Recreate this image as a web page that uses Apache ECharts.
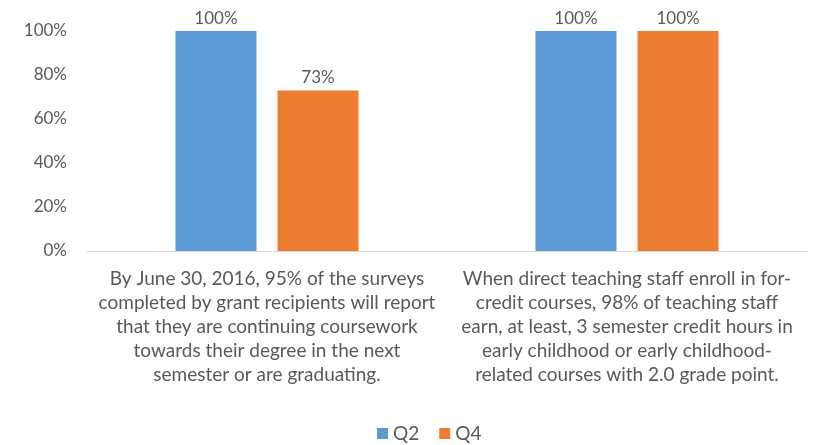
<!DOCTYPE html>
<html>
<head>
<meta charset="utf-8">
<script src="https://cdn.jsdelivr.net/npm/echarts@6/dist/echarts.min.js"></script>
<style>
  html, body { margin: 0; padding: 0; background: #fff; }
  #chart { width: 822px; height: 445px; }
</style>
</head>
<body>
<div id="chart"></div>
<script>
// categories (line breaks as in the picture)
const categories = [
  "By June 30, 2016, 95% of the surveys\ncompleted by grant recipients will report\nthat they are continuing coursework\ntowards their degree in the next\nsemester or are graduating.",
  "When direct teaching staff enroll in for-\ncredit courses, 98% of teaching staff\nearn, at least, 3 semester credit hours in\nearly childhood or early childhood-\nrelated courses with 2.0 grade point."
];
const seriesNames = ["Q2", "Q4"];
const q2Values = [100, 100];
const q4Values = [73, 100];
const yTicks = [0, 20, 40, 60, 80, 100];

const font = "Lato, 'Open Sans', sans-serif";
const textColor = "#595959";

const chart = echarts.init(document.getElementById("chart"));

const label = {
  show: true,
  position: "top",
  distance: 4,
  formatter: p => p.value + "%",
  color: textColor,
  fontSize: 17,
  fontFamily: font
};

const option = {
  animation: false,
  grid: { left: 87, right: 15, top: 31, bottom: 194 },
  legend: {
    data: seriesNames,
    bottom: -3,
    left: 372,
    itemWidth: 11,
    itemHeight: 11,
    itemGap: 20,
    icon: "rect",
    textStyle: { color: textColor, fontSize: 19, fontFamily: font }
  },
  xAxis: {
    type: "category",
    data: categories,
    axisTick: { show: false },
    axisLine: { lineStyle: { color: "#d9d9d9", width: 1 } },
    axisLabel: {
      interval: 0,
      margin: 16,
      color: textColor,
      fontSize: 19,
      lineHeight: 24,
      fontFamily: font,
      align: "center"
    }
  },
  yAxis: {
    type: "value",
    min: yTicks[0],
    max: yTicks[yTicks.length - 1],
    interval: 20,
    splitLine: { show: false },
    axisLine: { show: false },
    axisTick: { show: false },
    axisLabel: {
      formatter: v => v + "%",
      margin: 20,
      color: textColor,
      fontSize: 17,
      fontFamily: font
    }
  },
  series: [
    {
      name: seriesNames[0],
      type: "bar",
      data: q2Values,
      barWidth: 81,
      barGap: "26%",
      itemStyle: { color: "#5B9BD5" },
      label: label
    },
    {
      name: seriesNames[1],
      type: "bar",
      data: q4Values,
      barWidth: 81,
      itemStyle: { color: "#ED7D31" },
      label: label
    }
  ]
};

chart.setOption(option);
</script>
</body>
</html>
